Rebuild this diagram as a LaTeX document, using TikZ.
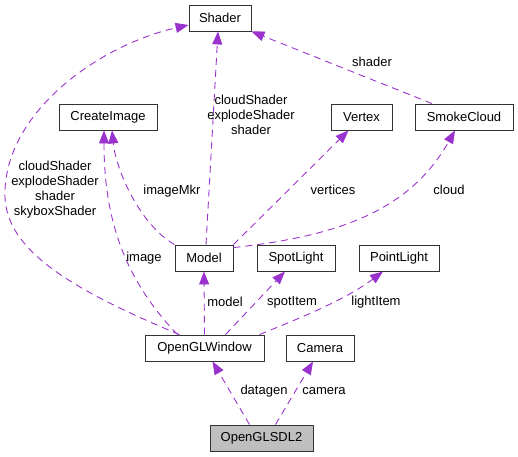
\documentclass[tikz,border=0pt]{standalone}
\usepackage{fontspec}
\setmainfont{Liberation Sans}
\usetikzlibrary{arrows.meta,calc}
\definecolor{edgecol}{HTML}{9A32CD}
\begin{document}
\begin{tikzpicture}[x=1pt,y=-1pt,
  cls/.style={draw=black!80, line width=0.9pt, fill=white, minimum height=26pt, inner sep=0pt, font=\fontsize{13}{15}\selectfont},
  dep/.style={draw=edgecol, dash pattern=on 7pt off 5pt, line width=0.9pt, -{Triangle[length=13pt,width=10pt,fill=edgecol]}},
  lbl/.style={font=\fontsize{13}{15}\selectfont, inner sep=0pt, align=center}]
\useasboundingbox (0,0) rectangle (518,456);
% nodes
\node[cls, minimum width=62pt] (shader) at (220,18) {Shader};
\node[cls, minimum width=98pt] (ci) at (108,117) {CreateImage};
\node[cls, minimum width=61pt] (vertex) at (361.5,117) {Vertex};
\node[cls, minimum width=98pt] (smoke) at (464,117) {SmokeCloud};
\node[cls, minimum width=58pt] (model) at (204,258) {Model};
\node[cls, minimum width=78pt] (spot) at (296,258) {SpotLight};
\node[cls, minimum width=80pt] (point) at (399,258) {PointLight};
\node[cls, minimum width=119pt] (ogl) at (204.5,348) {OpenGLWindow};
\node[cls, minimum width=68pt] (camera) at (320,348) {Camera};
\node[cls, minimum width=103pt, fill={rgb,255:red,191;green,191;blue,191}] (sdl) at (261.5,438) {OpenGLSDL2};
% edges
\draw[dep] ([xshift=-25pt]ogl.north) .. controls (60,285) and (2,245) .. (5,190) .. controls (8,110) and (100,45) .. ([yshift=-7pt]shader.west);
\draw[dep] ([xshift=-27pt]ogl.north) .. controls (125,280) and (104,220) .. ([xshift=-4pt]ci.south);
\draw[dep] (model.north west) .. controls (140,225) and (116,170) .. ([xshift=4pt]ci.south);
\draw[dep] ([xshift=2pt]model.north) -- ([xshift=-2pt]shader.south);
\draw[dep] (model.north east) -- ([xshift=-13pt]vertex.south);
\draw[dep] ([yshift=-3pt]model.north east) .. controls (340,236) and (410,210) .. ([xshift=-9pt]smoke.south);
\draw[dep] ([xshift=-32pt]smoke.north) -- (shader.south east);
\draw[dep] (ogl.north) -- (model.south);
\draw[dep] ([xshift=21pt]ogl.north) -- ([xshift=-11pt]spot.south);
\draw[dep] ([xshift=55pt]ogl.north) .. controls (300,318) and (345,300) .. ([xshift=-16pt]point.south);
\draw[dep] ([xshift=-12pt]sdl.north) -- ([xshift=8pt]ogl.south);
\draw[dep] ([xshift=14pt]sdl.north) -- ([xshift=-7pt]camera.south);
% labels
\node[lbl] (l1) at (55,190) {cloudShader\\explodeShader\\shader\\skyboxShader};
\node[lbl] (l2) at (172,191) {imageMkr};
\node[lbl] (l3) at (251,115) {cloudShader\\explodeShader\\shader};
\node[lbl] (l4) at (372,62) {shader};
\node[lbl] (l5) at (333,190) {vertices};
\node[lbl] (l6) at (449,190) {cloud};
\node[lbl] (l7) at (144,258) {image};
\node[lbl] (l8) at (225,302) {model};
\node[lbl] (l9) at (292,302) {spotItem};
\node[lbl] (l10) at (376,302) {lightItem};
\node[lbl] (l11) at (264,391) {datagen};
\node[lbl] (l12) at (324,391) {camera};
\end{tikzpicture}
\end{document}
